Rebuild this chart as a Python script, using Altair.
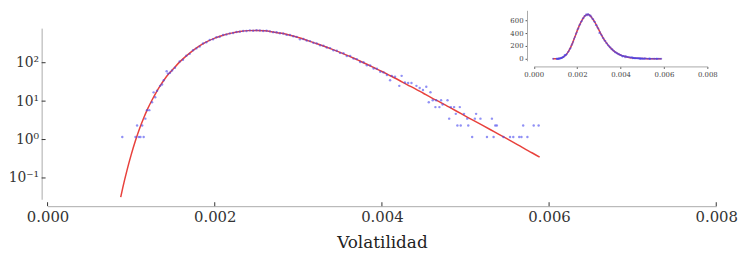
import altair as alt
import pandas as pd

# ---------------- data ----------------
CURVE_X = [0.000875, 0.00090, 0.00095, 0.00100, 0.00105, 0.00110, 0.00115, 0.00120,
           0.00125, 0.00130, 0.00135, 0.00140, 0.00145, 0.00150, 0.00160, 0.00170,
           0.00180, 0.00190, 0.00200, 0.00210, 0.00220, 0.00230, 0.00240, 0.00250,
           0.00260, 0.00270, 0.00280, 0.00290, 0.00300, 0.00310, 0.00320, 0.00330,
           0.00340, 0.00350, 0.00360, 0.00370, 0.00380, 0.00390, 0.00400, 0.00410,
           0.00420, 0.00430, 0.00440, 0.00450, 0.00460, 0.00470, 0.00480, 0.00490,
           0.00500, 0.00510, 0.00520, 0.00530, 0.00540, 0.00550, 0.00560, 0.00570,
           0.00580, 0.005887]
CURVE_Y = [0.0316, 0.0562, 0.158, 0.398, 0.912, 1.91, 3.63, 6.46,
           10.7, 17.0, 25.7, 37.2, 51.3, 67.6, 115, 178,
           257, 347, 437, 519, 589, 646, 684, 692,
           676, 631, 582, 519, 452, 385, 324, 272,
           226, 186, 151, 120, 95.5, 75.0, 58.9, 45.7,
           35.5, 26.9, 20.9, 15.8, 12.0, 9.33, 7.08, 5.37,
           4.07, 3.09, 2.37, 1.80, 1.36, 1.035, 0.785, 0.589,
           0.447, 0.347]

PTS_X = [0.000894, 0.001052, 0.001071, 0.001091, 0.001111, 0.001132, 0.00115, 0.00117,
         0.001189, 0.001217, 0.00125, 0.001269, 0.001288, 0.00131, 0.001347, 0.00137,
         0.00139, 0.001425, 0.00144, 0.001465, 0.00149, 0.001524,
         0.00158, 0.00162, 0.00166, 0.00170, 0.00174, 0.00178, 0.00182, 0.00186,
         0.00190, 0.00194, 0.00198, 0.00202, 0.00206, 0.00210, 0.00214, 0.00218,
         0.00222, 0.00226, 0.00230, 0.00234, 0.00238, 0.00242, 0.00246, 0.00250,
         0.00254, 0.00258, 0.00262, 0.00266, 0.00270, 0.00274, 0.00278, 0.00282,
         0.00286, 0.00290, 0.00294, 0.00298, 0.00302, 0.00306, 0.00310, 0.00314,
         0.00318, 0.00322, 0.00326, 0.00330, 0.00334, 0.00338, 0.00342, 0.00346,
         0.00350, 0.00354, 0.00358, 0.00362, 0.00366, 0.00370, 0.00374, 0.00378,
         0.00382, 0.00386, 0.00390, 0.00394, 0.00398,
         0.00402, 0.00406, 0.004098, 0.004118, 0.004157, 0.004208, 0.004236, 0.004275,
         0.004314, 0.004354, 0.004413, 0.004452, 0.004491, 0.004531, 0.004561, 0.004581,
         0.004608, 0.004640, 0.004649, 0.004688, 0.004708, 0.004726, 0.004785, 0.004805,
         0.004825, 0.004864, 0.004884, 0.004903, 0.004932, 0.004943, 0.004982, 0.005021,
         0.005033, 0.005080, 0.005112, 0.005127, 0.005179, 0.005257, 0.005316, 0.005336,
         0.005356, 0.005375, 0.005454, 0.005533, 0.005572, 0.005643, 0.005670, 0.005690,
         0.005741, 0.005816, 0.005875]
PTS_Y = [1.17, 1.17, 2.33, 1.17, 1.17, 2.33, 1.17, 3.50,
         5.83, 5.83, 9.32, 16.9, 12.6, 18.6, 25.0, 27.0,
         35.0, 60.0, 52.0, 55.0, 63.0, 74.0,
         108, 120, 152, 170, 212, 236, 265, 315,
         340, 388, 410, 460, 476, 525, 540, 580,
         592, 630, 640, 668, 672, 695, 680, 700,
         690, 672, 676, 655, 625, 618, 585, 575,
         530, 525, 488, 470, 405, 415, 380, 365,
         330, 318, 285, 278, 248, 240, 212, 205,
         180, 176, 150, 150, 128, 124, 104, 103,
         86, 85, 71, 70, 58,
         56, 48, 35, 45.5, 43, 25, 45.5, 30.6,
         29.5, 29.5, 25, 22, 19.5, 23.7, 9.32, 17,
         10.49, 6.99, 10.49, 6.99, 10.49, 8.16, 10.49, 3.50,
         6.99, 6.99, 4.66, 2.33, 6.99, 2.33, 4.66, 3.50,
         2.33, 1.17, 3.50, 4.66, 3.50, 1.17, 3.50, 1.17,
         2.33, 2.33, 1.17, 1.17, 1.17, 1.17, 1.17, 2.33,
         1.17, 2.33, 2.33]

X_TICKS = [0.0, 0.002, 0.004, 0.006, 0.008]
Y_TICKS = [0.1, 1, 10, 100]
INSET_Y_TICKS = [0, 200, 400, 600]
X_TITLE = "Volatilidad"

# ---------------- chart ----------------
W, H = 676, 173
FONT = "DejaVu Serif"
RED = "#e8413c"
BLUE = "#4646ee"

curve_df = pd.DataFrame({"x": CURVE_X, "y": CURVE_Y})
pts_df = pd.DataFrame({"x": PTS_X, "y": PTS_Y})
xt_df = pd.DataFrame({"x": X_TICKS})
yt_df = pd.DataFrame({"y": Y_TICKS})

xscale = alt.Scale(domain=[0, 0.008], nice=False, zero=False)
yscale = alt.Scale(type="log", domain=[0.0279, 794], nice=False)

xaxis = alt.Axis(values=X_TICKS, format=".3f", offset=7, ticks=False, grid=False,
                 domainColor="#aaaaaa", domainWidth=1,
                 labelFont=FONT, labelFontSize=15, labelColor="#333333",
                 labelPadding=3, labelFlush=False,
                 title=X_TITLE, titleFont=FONT, titleFontSize=17,
                 titleFontWeight="normal", titleColor="#222222", titlePadding=11)
yaxis = alt.Axis(values=Y_TICKS, offset=6, ticks=False, grid=False,
                 labelExpr="datum.value > 50 ? '10²' : datum.value > 5 ? '10¹' : datum.value > 0.5 ? '10⁰' : '10⁻¹'",
                 domainColor="#aaaaaa", domainWidth=1,
                 labelFont=FONT, labelFontSize=14, labelColor="#333333",
                 labelPadding=3, title=None)

X = alt.X("x:Q", scale=xscale, axis=xaxis)
Y = alt.Y("y:Q", scale=yscale, axis=yaxis)

line = alt.Chart(curve_df).mark_line(color=RED, strokeWidth=1.5, interpolate="monotone").encode(x=X, y=Y)
points = alt.Chart(pts_df).mark_circle(size=6, color=BLUE, opacity=0.6).encode(x=X, y=Y)
xticks = alt.Chart(xt_df).mark_rule(color="#333333", strokeWidth=1).encode(
    x=X, y=alt.value(H + 7), y2=alt.value(H + 3))
yticks = alt.Chart(yt_df).mark_rule(color="#333333", strokeWidth=1).encode(
    y=Y, x=alt.value(-6), x2=alt.value(-2))

main = alt.layer(line, points, xticks, yticks)

# inset (linear scale), placed with pixel ranges in the top-right corner
ixscale = alt.Scale(domain=[0, 0.008], range=[491.5, 667], nice=False, zero=False)
iyscale = alt.Scale(domain=[-31, 758], range=[33, -18], nice=False, zero=False)
ixaxis = alt.Axis(orient="bottom", values=X_TICKS, format=".3f", offset=-134.3, grid=False,
                  domainColor="#aaaaaa", tickSize=2, tickColor="#555555",
                  labelFont=FONT, labelFontSize=7, labelColor="#444444",
                  labelPadding=2, labelFlush=False, title=None)
iyaxis = alt.Axis(orient="left", values=INSET_Y_TICKS, offset=-484.7, grid=False,
                  domainColor="#aaaaaa", tickSize=2, tickColor="#555555",
                  labelFont=FONT, labelFontSize=7, labelColor="#444444",
                  labelPadding=2, title=None)
IX = alt.X("x:Q", scale=ixscale, axis=ixaxis)
IY = alt.Y("y:Q", scale=iyscale, axis=iyaxis)

inset_line = alt.Chart(curve_df).mark_line(color=RED, strokeWidth=1.5, interpolate="monotone").encode(x=IX, y=IY)
inset_pts = alt.Chart(pts_df).mark_circle(size=4, color=BLUE, opacity=0.6).encode(x=IX, y=IY)
inset = alt.layer(inset_line, inset_pts)

chart = alt.layer(main, inset).resolve_scale(
    x="independent", y="independent"
).properties(
    width=W, height=H,
    padding={"left": 40, "top": 19, "right": 23, "bottom": 56},
    autosize=alt.AutoSizeParams(type="none"),
).configure_view(stroke="transparent")

chart.save("out.html", embed_options={"renderer": "svg", "actions": False})
